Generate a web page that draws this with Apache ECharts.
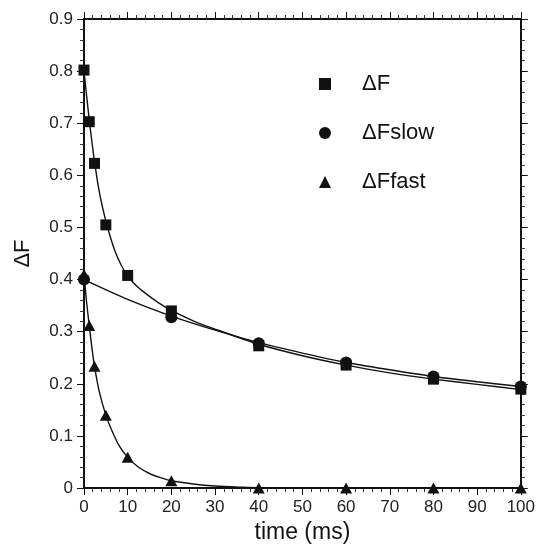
<!DOCTYPE html>
<html>
<head>
<meta charset="utf-8">
<script src="https://cdn.jsdelivr.net/npm/echarts@6/dist/echarts.min.js"></script>
<style>
html,body{margin:0;padding:0;background:#fff;}
#chart{width:538px;height:549px;}
</style>
</head>
<body>
<div id="chart"></div>
<script>
// Measured points
const timeAll = [0, 1.2, 2.4, 5, 10, 20, 40, 60, 80, 100];
const dF = [0.802, 0.703, 0.623, 0.505, 0.408, 0.340, 0.273, 0.236, 0.209, 0.190];
const timeSlow = [0, 20, 40, 60, 80, 100];
const dFslow = [0.400, 0.328, 0.278, 0.241, 0.214, 0.195];
const dFfast = [0.410, 0.312, 0.234, 0.140, 0.059, 0.014, 0, 0, 0, 0];

// Fitted curves
const fitTimeDF = [0, 0.6, 1.2, 1.8, 2.4, 3.3, 4.2, 5.5, 7, 8.5, 10, 12, 14, 17, 20, 25, 30, 40, 50, 60, 70, 80, 90, 100];
const fitDF = [0.800, 0.752, 0.707, 0.665, 0.627, 0.578, 0.540, 0.497, 0.457, 0.428, 0.407, 0.388, 0.374, 0.356, 0.341, 0.321, 0.305, 0.276, 0.254, 0.236, 0.221, 0.209, 0.199, 0.189];
const fitTimeSlow = [0, 10, 20, 30, 40, 50, 60, 70, 80, 90, 100];
const fitSlow = [0.400, 0.362, 0.330, 0.303, 0.279, 0.259, 0.241, 0.227, 0.214, 0.204, 0.195];
const fitTimeFast = [0, 0.6, 1.2, 1.8, 2.4, 3.5, 5, 6.5, 8, 10, 12.5, 15, 17.5, 20, 25, 30, 35, 40, 50, 60, 80, 100];
const fitFast = [0.410, 0.356, 0.312, 0.270, 0.234, 0.185, 0.140, 0.108, 0.082, 0.059, 0.040, 0.028, 0.020, 0.014, 0.008, 0.004, 0.002, 0.001, 0, 0, 0, 0];

const xTicks = {min: 0, max: 100, interval: 10};
const yTicks = {min: 0, max: 0.9, interval: 0.1};

const zip = (xs, ys) => xs.map((x, i) => [x, ys[i]]);
const FONT = 'Liberation Sans, Arial, Helvetica, sans-serif';
const INK = '#111';

const chart = echarts.init(document.getElementById('chart'), null, {renderer: 'canvas'});

function axisCommon(showLabel) {
  return {
    axisLine: {show: true, onZero: false, lineStyle: {color: INK, width: 2}},
    axisTick: {show: true, inside: false, length: 7, lineStyle: {color: INK, width: 1}},
    minorTick: {show: true, splitNumber: 5, length: 4, lineStyle: {color: '#333', width: 1}},
    splitLine: {show: false},
    minorSplitLine: {show: false},
    axisLabel: {show: showLabel, fontFamily: FONT, fontSize: 17, color: '#222', margin: 11}
  };
}

const lineStyleFit = {color: INK, width: 1.4};

chart.setOption({
  animation: false,
  backgroundColor: '#fff',
  grid: {left: 84, right: 15, top: 19, bottom: 54, containLabel: false},
  legend: {
    orient: 'vertical',
    left: 314,
    top: 68,
    itemWidth: 12,
    itemHeight: 12,
    itemGap: 27,
    data: ['ΔF', 'ΔFslow', 'ΔFfast'],
    textStyle: {fontFamily: FONT, fontSize: 22, color: INK, lineHeight: 22, padding: [0, 0, 0, 26]}
  },
  xAxis: [
    Object.assign({type: 'value', position: 'bottom', min: xTicks.min, max: xTicks.max, interval: xTicks.interval,
      name: 'time (ms)', nameLocation: 'middle', nameGap: 31,
      nameTextStyle: {fontFamily: FONT, fontSize: 23, color: INK}}, axisCommon(true)),
    Object.assign({type: 'value', position: 'top', min: xTicks.min, max: xTicks.max, interval: xTicks.interval}, axisCommon(false))
  ],
  yAxis: [
    Object.assign({type: 'value', position: 'left', min: yTicks.min, max: yTicks.max, interval: yTicks.interval,
      name: 'ΔF', nameLocation: 'middle', nameGap: 50, nameRotate: 90,
      nameTextStyle: {fontFamily: FONT, fontSize: 22, color: INK}}, axisCommon(true)),
    Object.assign({type: 'value', position: 'right', min: yTicks.min, max: yTicks.max, interval: yTicks.interval}, axisCommon(false))
  ],
  series: [
    {name: 'fitDF', type: 'line', data: zip(fitTimeDF, fitDF), smooth: 0.25, showSymbol: false, lineStyle: lineStyleFit, z: 2, silent: true},
    {name: 'fitSlow', type: 'line', data: zip(fitTimeSlow, fitSlow), smooth: 0.25, showSymbol: false, lineStyle: lineStyleFit, z: 2, silent: true},
    {name: 'fitFast', type: 'line', data: zip(fitTimeFast, fitFast), smooth: 0.25, showSymbol: false, lineStyle: lineStyleFit, z: 2, silent: true},
    {name: 'ΔF', type: 'scatter', data: zip(timeAll, dF), symbol: 'rect', symbolSize: 11, itemStyle: {color: INK, opacity: 1}, z: 5},
    {name: 'ΔFslow', type: 'scatter', data: zip(timeSlow, dFslow), symbol: 'circle', symbolSize: 12, itemStyle: {color: INK, opacity: 1}, z: 4},
    {name: 'ΔFfast', type: 'scatter', data: zip(timeAll, dFfast), symbol: 'triangle', symbolSize: [12, 11], itemStyle: {color: INK, opacity: 1}, z: 4}
  ]
});
</script>
</body>
</html>
